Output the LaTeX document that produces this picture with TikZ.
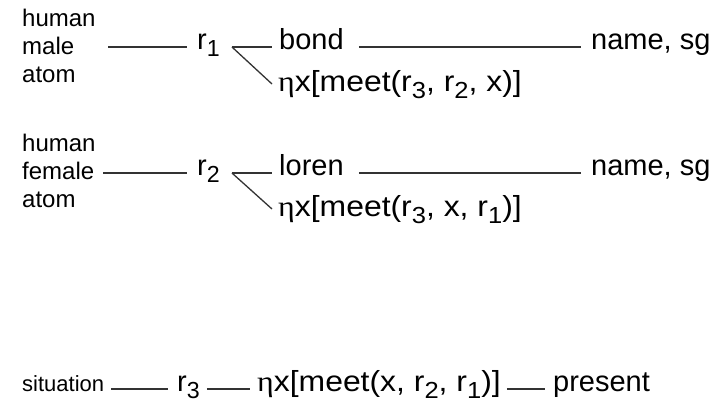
\documentclass[tikz,border=0pt]{standalone}
\usepackage{fontspec}
\setmainfont{Liberation Sans}
\newfontfamily\etafont{Liberation Serif}
\usepackage{graphicx}
\newcommand{\lsub}[1]{\raisebox{-0.25em}{\scalebox{0.8}{#1}}}
\newcommand{\etx}{{\etafont η}}
\newcommand{\etaexpr}[1]{\scalebox{1.1}[1]{\etx x[meet(#1)]}}
\begin{document}
\begin{tikzpicture}[x=1pt,y=-1pt,
  big/.style={font=\fontsize{29}{34}\selectfont, inner sep=0pt},
  small/.style={font=\fontsize{24}{28}\selectfont, align=left, inner sep=0pt},
  bsmall/.style={font=\fontsize{22}{26}\selectfont, inner sep=0pt},
  conn/.style={draw=black!80, line width=1.3pt}]
\useasboundingbox (0,0) rectangle (725,420);
% row 1
\node[small, text width=86, anchor=west] (lab1) at (22,46) {human\\male\\atom};
\node[big, anchor=mid west] (r1) at (197,47) {r\lsub{1}};
\node[big, anchor=mid west] (bond) at (279,47) {bond};
\node[big, anchor=mid west] (name1) at (591,47) {name, sg};
\node[big, anchor=mid west] (eta1) at (278,89) {\etaexpr{r\lsub{3}, r\lsub{2}, x}};
\draw[conn] (lab1.east |- r1.mid west) -- ([xshift=-10pt]r1.mid west);
\draw[conn] ([xshift=12pt]r1.mid east) -- ([xshift=-7pt]bond.mid west);
\draw[conn] ([xshift=12pt]r1.mid east) -- ([xshift=-6pt,yshift=5pt]eta1.mid west);
\draw[conn] ([xshift=15pt]bond.mid east) -- ([xshift=-10pt]name1.mid west);
% row 2
\node[small, text width=81, anchor=west] (lab2) at (22,171) {human\\female\\atom};
\node[big, anchor=mid west] (r2) at (197,173) {r\lsub{2}};
\node[big, anchor=mid west] (loren) at (279,173) {loren};
\node[big, anchor=mid west] (name2) at (591,173) {name, sg};
\node[big, anchor=mid west] (eta2) at (278,214) {\etaexpr{r\lsub{3}, x, r\lsub{1}}};
\draw[conn] (lab2.east |- r2.mid west) -- ([xshift=-10pt]r2.mid west);
\draw[conn] ([xshift=12pt]r2.mid east) -- ([xshift=-7pt]loren.mid west);
\draw[conn] ([xshift=12pt]r2.mid east) -- ([xshift=-6pt,yshift=5pt]eta2.mid west);
\draw[conn] ([xshift=15pt]loren.mid east) -- ([xshift=-10pt]name2.mid west);
% row 3
\node[bsmall, anchor=mid west] (sit) at (22,389) {situation};
\node[big, anchor=mid west] (r3) at (177,389) {r\lsub{3}};
\node[big, anchor=mid west] (eta3) at (257,389) {\etaexpr{x, r\lsub{2}, r\lsub{1}}};
\node[big, anchor=mid west] (pres) at (553,389) {present};
\draw[conn] ([xshift=7pt]sit.mid east) -- ([xshift=-9pt]r3.mid west);
\draw[conn] ([xshift=7pt]r3.mid east) -- ([xshift=-7pt]eta3.mid west);
\draw[conn] ([xshift=6pt]eta3.mid east) -- ([xshift=-8pt]pres.mid west);
\end{tikzpicture}
\end{document}
